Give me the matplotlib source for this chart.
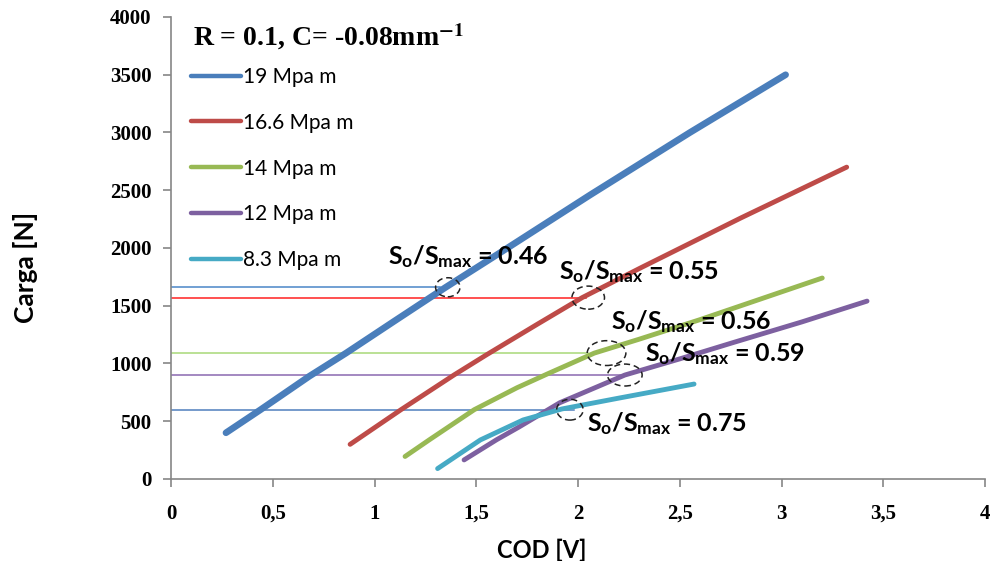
import matplotlib

matplotlib.use("Agg")

import matplotlib.pyplot as plt
from matplotlib.patches import Ellipse

# Load vs. COD curves, one per stress intensity level
cod_19 = [0.27, 0.44, 0.68, 0.86, 1.10, 1.35, 1.60, 2.06, 2.55, 3.02]
load_19 = [400, 600, 890, 1090, 1370, 1660, 1940, 2460, 3000, 3500]

cod_166 = [0.88, 1.13, 1.39, 1.55, 1.80, 2.02, 2.31, 2.80, 3.32]
load_166 = [300, 600, 900, 1075, 1340, 1570, 1830, 2260, 2700]

cod_14 = [1.15, 1.27, 1.49, 1.70, 1.85, 2.08, 2.30, 2.60, 2.90, 3.20]
load_14 = [195, 340, 600, 790, 910, 1090, 1210, 1380, 1560, 1740]

cod_12 = [1.44, 1.60, 1.71, 1.91, 2.23, 2.50, 2.76, 3.10, 3.42]
load_12 = [165, 340, 450, 660, 900, 1040, 1180, 1360, 1540]

cod_83 = [1.31, 1.42, 1.52, 1.73, 1.92, 2.20, 2.57]
load_83 = [90, 220, 338, 511, 606, 700, 822]

labels = ["19 Mpa m", "16.6 Mpa m", "14 Mpa m", "12 Mpa m", "8.3 Mpa m"]
colors = ["#4a7ebb", "#be4b48", "#98b954", "#7d60a0", "#46aac5"]

# Opening load (S_o) marked on each curve
open_load = [1660, 1570, 1090, 900, 600]
open_cod = [1.36, 2.05, 2.14, 2.23, 1.96]
ratio = ["0.46", "0.55", "0.56", "0.59", "0.75"]
ref_colors = ["#4a86c8", "#ff2020", "#a8d878", "#8a68b0", "#4f7fbd"]
ref_end = [1.32, 2.04, 2.05, 2.25, 1.98]
ell_size = [(0.12, 165), (0.16, 200), (0.19, 215), (0.17, 190), (0.13, 180)]
text_pos = [(1.066, 1922), (1.907, 1792), (2.162, 1359), (2.33, 1082), (2.044, 476)]

x_ticks = [0, 0.5, 1, 1.5, 2, 2.5, 3, 3.5, 4]
x_tick_labels = ["0", "0,5", "1", "1,5", "2", "2,5", "3", "3,5", "4"]
y_ticks = [0, 500, 1000, 1500, 2000, 2500, 3000, 3500, 4000]

plt.rcParams["mathtext.fontset"] = "custom"
plt.rcParams["mathtext.rm"] = "Lato:bold"
plt.rcParams["mathtext.it"] = "Lato:bold"
plt.rcParams["mathtext.bf"] = "Lato:bold"

fig = plt.figure(figsize=(9.92, 5.61), dpi=100)
ax = fig.add_axes([0.1724, 0.1462, 0.8206, 0.8235])

# thin horizontal reference lines at the opening loads
for yv, xe, c in zip(open_load, ref_end, ref_colors):
    ax.plot([0, xe], [yv, yv], color=c, lw=1.1, zorder=2)

series = [(cod_19, load_19), (cod_166, load_166), (cod_14, load_14),
          (cod_12, load_12), (cod_83, load_83)]
for i, ((xs, ys), lab, c) in enumerate(zip(series, labels, colors)):
    ax.plot(xs, ys, color=c, lw=4.8 if i == 0 else 3.5, label=lab,
            solid_capstyle="round", solid_joinstyle="round", zorder=3)

for (xc, yc), (w, h) in zip(zip(open_cod, open_load), ell_size):
    ax.add_patch(Ellipse((xc, yc), w, h, fill=False, ec="#222222",
                         lw=1.1, ls=(0, (4, 2.5)), zorder=5))

for (tx, ty), r in zip(text_pos, ratio):
    ax.text(tx, ty, r"$S_o/S_{max}$" + " = " + r, fontsize=18,
            family="Lato", weight="bold", ha="left", va="center", zorder=6)

ax.text(0.11, 3960, r"R = 0.1, C= -0.08mm$^{\mathbf{-1}}$", fontsize=20,
        family="Liberation Serif", weight="bold", math_fontfamily="stix",
        ha="left", va="top")

leg = ax.legend(loc="upper left", bbox_to_anchor=(0.014, 0.91),
                frameon=False, fontsize=15, handlelength=2.4,
                handletextpad=0.12, labelspacing=1.24, borderaxespad=0)
for t in leg.get_texts():
    t.set_family("Lato")
for h in leg.get_lines():
    h.set_linewidth(3.2)

ax.set_xlim(0, 4)
ax.set_ylim(0, 4000)
ax.set_xticks(x_ticks)
ax.set_xticklabels(x_tick_labels)
ax.set_yticks(y_ticks)
for lab in ax.get_xticklabels() + ax.get_yticklabels():
    lab.set_family("Liberation Serif")
    lab.set_fontweight("bold")
    lab.set_fontsize(15)

ax.spines["top"].set_visible(False)
ax.spines["right"].set_visible(False)
for s in ("left", "bottom"):
    ax.spines[s].set_color("#868686")
    ax.spines[s].set_linewidth(1.2)
ax.tick_params(axis="y", direction="out", length=6, width=1.2,
               color="#868686", pad=8)
ax.tick_params(axis="x", direction="out", length=6, width=1.2,
               color="#868686", pad=12)

ax.set_xlabel("COD [V]", fontsize=17, family="Lato", weight="bold")
ax.set_ylabel("Carga [N]", fontsize=19, family="Lato", weight="bold")
ax.xaxis.set_label_coords(0.455, -0.13)
ax.yaxis.set_label_coords(-0.163, 0.457)

fig.savefig("out.png", dpi=100)
